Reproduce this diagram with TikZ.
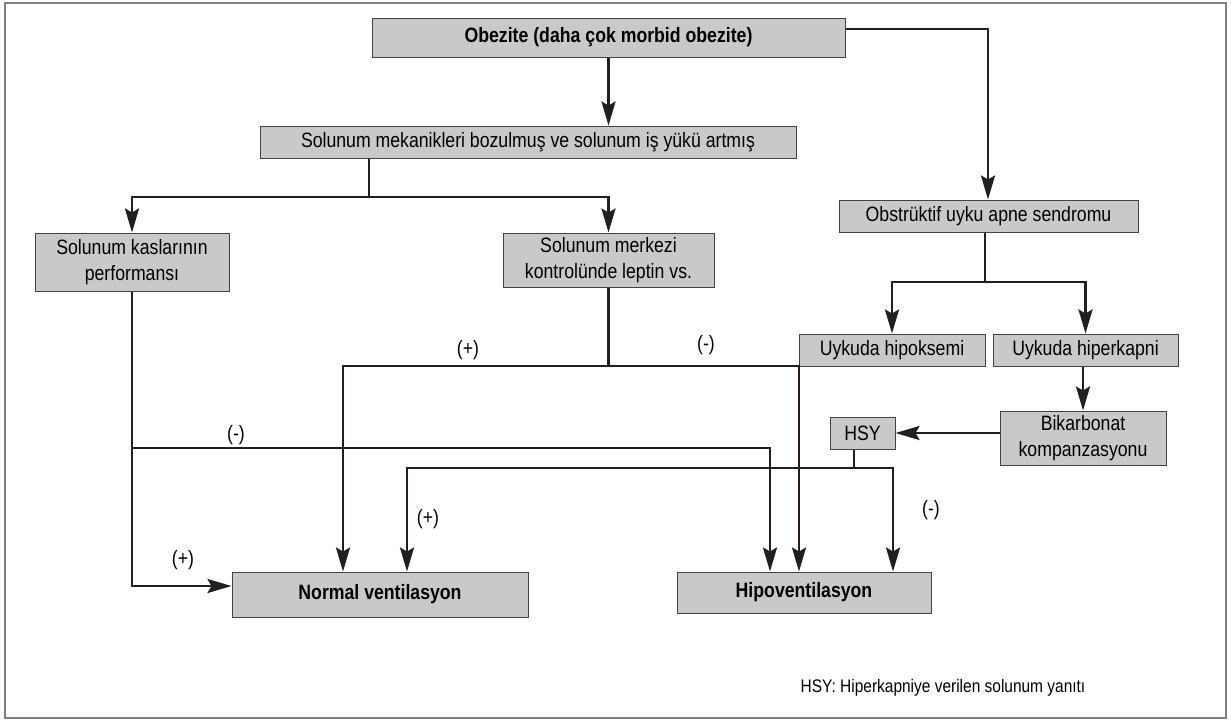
\documentclass[tikz,border=0pt]{standalone}
\usepackage{fontspec}
\setmainfont{Liberation Sans}[FakeStretch=0.85]
\usepackage{tikz}
\usetikzlibrary{arrows.meta, positioning}
\definecolor{kutugri}{RGB}{200,201,203}
\definecolor{murekkep}{RGB}{35,31,32}
\tikzstyle{kutu}=[rectangle, draw=murekkep!85, fill=kutugri, line width=0.5pt, inner sep=0pt, align=center, font=\fontsize{10.4}{13}\selectfont]
\tikzstyle{anakutu}=[kutu, font=\fontsize{10.4}{13}\selectfont\bfseries]
\tikzstyle{hat}=[draw=murekkep, line width=1.35pt]
\tikzstyle{ok}=[hat, -{Stealth[length=12pt, width=7pt, inset=2pt]}]
\tikzstyle{isaret}=[inner sep=0pt, font=\fontsize{10.4}{13}\selectfont]

\begin{document}
\begin{tikzpicture}[x=0.5pt, y=-0.5pt]
    \useasboundingbox (0,0) rectangle (1231,720);
    \draw[gray, line width=0.6pt] (5,3) rectangle (1226,718);

    \node[anakutu, minimum width=236.5pt, minimum height=19.5pt] (obez) at (608.5,37.5) {Obezite (daha çok morbid obezite)};
		\node[kutu, minimum width=268pt, minimum height=16pt] (mek) at (528,142) {Solunum mekanikleri bozulmuş ve solunum iş yükü artmış};
		\node[kutu, minimum width=97pt, minimum height=29pt] (kas) at (132,262) {Solunum kaslarının\\performansı};
		\node[kutu, minimum width=105.5pt, minimum height=27pt] (merk) at (608.5,260) {Solunum merkezi\\kontrolünde leptin vs.};
		\node[kutu, minimum width=149.5pt, minimum height=16pt] (osas) at (988.5,216) {Obstrüktif uyku apne sendromu};
		\node[kutu, minimum width=93pt, minimum height=16pt] (hipoks) at (892,350) {Uykuda hipoksemi};
		\node[kutu, minimum width=92.5pt, minimum height=16pt] (hiperk) at (1085.5,350) {Uykuda hiperkapni};
		\node[kutu, minimum width=83pt, minimum height=27pt] (bikarb) at (1083,438) {Bikarbonat\\kompanzasyonu};
		\node[kutu, minimum width=32.5pt, minimum height=16pt] (hsy) at (862.5,433) {HSY};
		\node[anakutu, minimum width=148pt, minimum height=22.5pt] (normal) at (380,594.5) {Normal ventilasyon};
		\node[anakutu, minimum width=127pt, minimum height=20.5pt] (hipo) at (804,592.5) {Hipoventilasyon};

    \coordinate (o1) at (988,29);
    \coordinate (m1) at (369,197);
    \coordinate (s1) at (985,282);
    \coordinate (p1) at (343,366);
    \coordinate (p2) at (799,366);
    \coordinate (k1) at (770,448);
    \coordinate (h1) at (854,468);
    \coordinate (h2) at (407,468);
    \coordinate (h3) at (893,468);

    \draw[ok] (obez.south) -- (obez.south |- mek.north);
    \draw[ok] (obez.east |- o1) -- (o1) -- (osas.north -| o1);
    \draw[hat] (mek.south -| m1) -- (m1);
    \draw[ok] (m1) -| (kas.north);
    \draw[ok] (m1) -| (merk.north);
    \draw[hat] (osas.south -| s1) -- (s1);
    \draw[ok] (s1) -| (hipoks.north);
    \draw[ok] (s1) -| (hiperk.north);
    \draw[ok] (hiperk.south -| bikarb.north) -- (bikarb.north);
    \draw[ok] (bikarb.west |- hsy.east) -- (hsy.east);

    \draw[ok] (merk.south) |- (p1) -- (p1 |- normal.north);
    \draw[ok] (merk.south) |- (p2) -- (p2 |- hipo.north);
    \draw[ok] (kas.south) |- (k1) -- (k1 |- hipo.north);
    \draw[ok] (kas.south) |- ([yshift=4.25pt]normal.west);
    \draw[hat] (hsy.south -| h1) -- (h1);
    \draw[ok] (h1) -- (h2) -- (h2 |- normal.north);
    \draw[ok] (h1) -- (h3) -- (h3 |- hipo.north);

    \node[isaret] (a1) at (468,350) {(+)};
    \node[isaret] (a2) at (706,345) {(-)};
    \node[isaret] (a3) at (236,435) {(-)};
    \node[isaret] (a4) at (183,560) {(+)};
    \node[isaret] (a5) at (428,519) {(+)};
    \node[isaret] (a6) at (931,510) {(-)};
    \node[isaret, font=\fontsize{9.1}{11}\selectfont] (dipnot) at (943,688) {HSY: Hiperkapniye verilen solunum yanıtı};
  \end{tikzpicture}
\end{document}
